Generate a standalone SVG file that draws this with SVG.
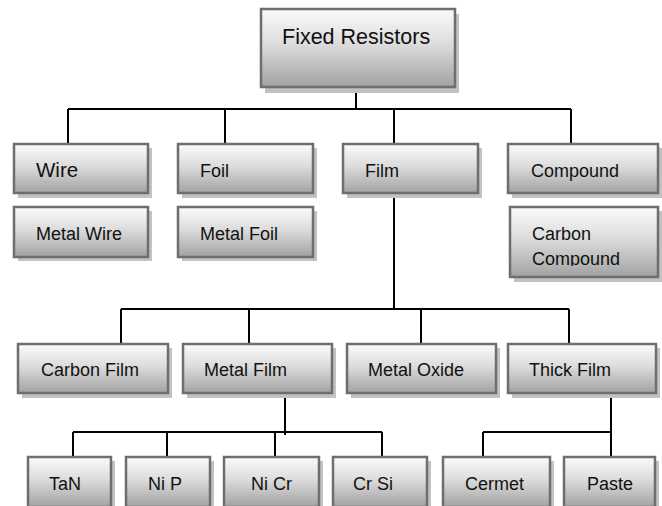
<svg xmlns="http://www.w3.org/2000/svg" width="662" height="506" viewBox="0 0 662 506">
<defs>
<linearGradient id="g" x1="0" y1="0" x2="0" y2="1">
<stop offset="0" stop-color="#fbfbfb"/>
<stop offset="0.45" stop-color="#dcdcdc"/>
<stop offset="1" stop-color="#a2a2a2"/>
</linearGradient>
<clipPath id="cc"><rect x="510" y="207" width="148" height="59"/></clipPath>
</defs>
<style>
.sh{fill:#c2c2c2}
.bx{fill:url(#g);stroke:#6e6e6e;stroke-width:2.5}
.t{font-family:"Liberation Sans",Arial,sans-serif;font-size:18px;fill:#111}
.ln{stroke:#000;stroke-width:2;fill:none}
</style>
<rect width="662" height="506" fill="#fff"/>
<g id="connectors">
<path class="ln" d="M356 88V109M68 109H571M68 109V144M225 109V144M394 109V144M571 109V144"/>
<path class="ln" d="M394 193V309M121 309H569M121 309V344M249 309V344M421 309V344M569 309V344"/>
<path class="ln" d="M285 393V435M73 432H382M73 432V457M167 432V457M275 432V457M382 432V457"/>
<path class="ln" d="M611 393V457M483 432H611M483 432V457"/>
</g>
<g id="fixed"><rect class="sh" x="265" y="14" width="194" height="79"/><rect class="bx" x="261" y="9" width="194" height="78"/><text class="t" x="282" y="44" style="font-size:21.5px">Fixed Resistors</text></g>
<g id="wire"><rect class="sh" x="18" y="148" width="134" height="50"/><rect class="bx" x="14" y="144" width="134" height="49"/><text class="t" x="36" y="177" style="font-size:20.5px">Wire</text></g>
<g id="foil"><rect class="sh" x="182" y="148" width="135" height="50"/><rect class="bx" x="178" y="144" width="135" height="49"/><text class="t" x="200" y="177">Foil</text></g>
<g id="film"><rect class="sh" x="347" y="148" width="135" height="50"/><rect class="bx" x="343" y="144" width="135" height="49"/><text class="t" x="365" y="177">Film</text></g>
<g id="compound"><rect class="sh" x="512" y="148" width="150" height="50"/><rect class="bx" x="508" y="144" width="150" height="49"/><text class="t" x="531" y="177">Compound</text></g>
<g id="metalwire"><rect class="sh" x="18" y="211" width="134" height="50"/><rect class="bx" x="14" y="207" width="134" height="50"/><text class="t" x="36" y="240">Metal Wire</text></g>
<g id="metalfoil"><rect class="sh" x="182" y="211" width="135" height="50"/><rect class="bx" x="178" y="207" width="135" height="50"/><text class="t" x="200" y="240">Metal Foil</text></g>
<g id="carboncompound"><rect class="sh" x="514" y="211" width="148" height="71"/><rect class="bx" x="510" y="207" width="148" height="70"/><text class="t" x="532" y="240">Carbon</text><text class="t" x="532" y="265" clip-path="url(#cc)">Compound</text></g>
<g id="carbonfilm"><rect class="sh" x="22" y="348" width="150" height="50"/><rect class="bx" x="18" y="344" width="150" height="49"/><text class="t" x="41" y="376">Carbon Film</text></g>
<g id="metalfilm"><rect class="sh" x="187" y="348" width="149" height="50"/><rect class="bx" x="183" y="344" width="149" height="49"/><text class="t" x="204" y="376">Metal Film</text></g>
<g id="metaloxide"><rect class="sh" x="351" y="348" width="149" height="50"/><rect class="bx" x="347" y="344" width="149" height="49"/><text class="t" x="368" y="376">Metal Oxide</text></g>
<g id="thickfilm"><rect class="sh" x="512" y="348" width="148" height="50"/><rect class="bx" x="508" y="344" width="148" height="49"/><text class="t" x="529" y="376">Thick Film</text></g>
<g id="tan"><rect class="sh" x="32" y="461" width="83" height="50"/><rect class="bx" x="28" y="457" width="83" height="50"/><text class="t" x="49" y="490">TaN</text></g>
<g id="nip"><rect class="sh" x="130" y="461" width="84" height="50"/><rect class="bx" x="126" y="457" width="84" height="50"/><text class="t" x="148" y="490">Ni P</text></g>
<g id="nicr"><rect class="sh" x="228" y="461" width="95" height="50"/><rect class="bx" x="224" y="457" width="95" height="50"/><text class="t" x="251" y="490">Ni Cr</text></g>
<g id="crsi"><rect class="sh" x="337" y="461" width="94" height="50"/><rect class="bx" x="333" y="457" width="94" height="50"/><text class="t" x="353" y="490">Cr Si</text></g>
<g id="cermet"><rect class="sh" x="447" y="461" width="107" height="50"/><rect class="bx" x="443" y="457" width="107" height="50"/><text class="t" x="465" y="490">Cermet</text></g>
<g id="paste"><rect class="sh" x="568" y="461" width="91" height="50"/><rect class="bx" x="564" y="457" width="91" height="50"/><text class="t" x="587" y="490">Paste</text></g>
</svg>
